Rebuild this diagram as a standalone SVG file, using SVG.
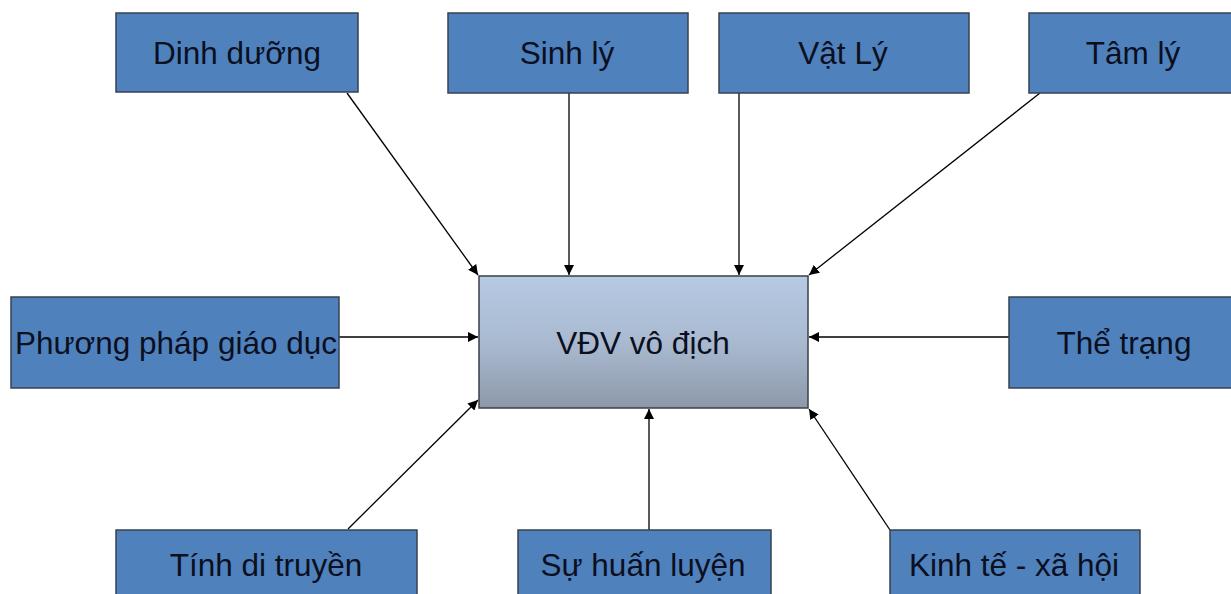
<svg xmlns="http://www.w3.org/2000/svg" width="1231" height="594" viewBox="0 0 1231 594">
<defs>
<linearGradient id="g" x1="0" y1="0" x2="0" y2="1">
<stop offset="0" stop-color="#B6CAE4"/>
<stop offset="0.5" stop-color="#A9BAD0"/>
<stop offset="1" stop-color="#8D99AA"/>
</linearGradient>
<marker id="ah" viewBox="0 0 10 10" refX="10" refY="5" markerWidth="10" markerHeight="10" markerUnits="userSpaceOnUse" orient="auto">
<path d="M0,0 L10,5 L0,10 z" fill="#000"/>
</marker>
<style>
.box{fill:#4F81BD;stroke:#3A4150;stroke-width:1.5}
.t{font-family:"Liberation Sans",Arial,sans-serif;font-size:31.5px;fill:#0B0F1E;text-anchor:middle;dominant-baseline:central}
.c{stroke:#000;stroke-width:1.3;fill:none;marker-end:url(#ah)}
</style>
</defs>
<rect width="1231" height="594" fill="#fff"/>
<g id="connectors">
<line class="c" x1="347" y1="93" x2="478" y2="275"/>
<line class="c" x1="569" y1="93" x2="569" y2="275"/>
<line class="c" x1="739" y1="93" x2="739" y2="275"/>
<line class="c" x1="1040" y1="93" x2="809" y2="275"/>
<line class="c" x1="339" y1="337" x2="478" y2="337"/>
<line class="c" x1="1009" y1="337" x2="809" y2="337"/>
<line class="c" x1="348" y1="529" x2="478" y2="400"/>
<line class="c" x1="649" y1="530" x2="649" y2="409"/>
<line class="c" x1="890" y1="530" x2="809" y2="409"/>
</g>
<g id="center"><rect x="479" y="276" width="329" height="132" fill="url(#g)" stroke="#3A3F48" stroke-width="1.5"/><text class="t" x="643" y="343">VĐV vô địch</text></g>
<g id="dinhduong"><rect class="box" x="116" y="13" width="242" height="79"/><text class="t" x="237" y="53">Dinh dưỡng</text></g>
<g id="sinhly"><rect class="box" x="448" y="13" width="240" height="80"/><text class="t" x="567" y="53">Sinh lý</text></g>
<g id="vatly"><rect class="box" x="719" y="13" width="250" height="80"/><text class="t" x="843" y="53">Vật Lý</text></g>
<g id="tamly"><rect class="box" x="1029" y="13" width="210" height="80"/><text class="t" x="1133" y="53">Tâm lý</text></g>
<g id="ppgd"><rect class="box" x="11" y="297" width="328" height="91"/><text class="t" x="176" y="343">Phương pháp giáo dục</text></g>
<g id="thetrang"><rect class="box" x="1009" y="297" width="230" height="91"/><text class="t" x="1124" y="343">Thể trạng</text></g>
<g id="ditruyen"><rect class="box" x="116" y="530" width="301" height="80"/><text class="t" x="266" y="565">Tính di truyền</text></g>
<g id="huanluyen"><rect class="box" x="518" y="530" width="253" height="80"/><text class="t" x="643" y="565">Sự huấn luyện</text></g>
<g id="kinhte"><rect class="box" x="890" y="530" width="250" height="80"/><text class="t" x="1014" y="565">Kinh tế - xã hội</text></g>
</svg>
